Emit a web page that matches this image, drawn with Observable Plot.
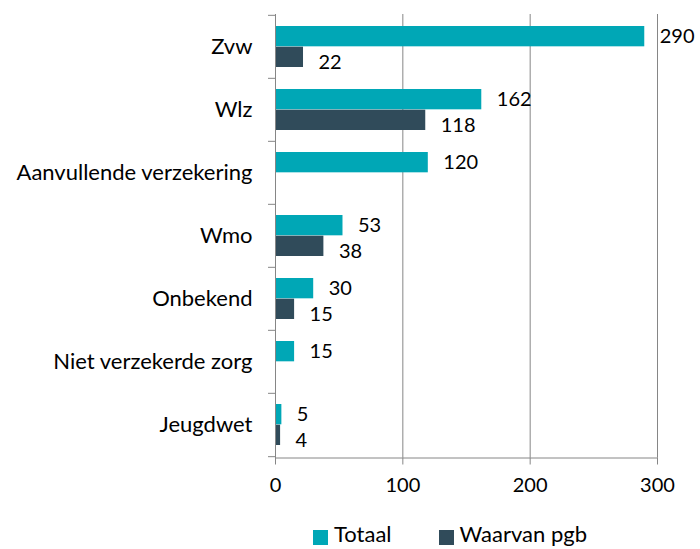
<!DOCTYPE html>
<html>
<head>
<meta charset="utf-8">
<script src="https://cdn.jsdelivr.net/npm/d3@7"></script>
<script src="https://cdn.jsdelivr.net/npm/@observablehq/plot@0.6"></script>
<style>
  body { margin: 0; background: #fff; font-family: Lato, "Open Sans", sans-serif; }
  #wrap { position: relative; width: 700px; height: 549px; }
  #legend { position: absolute; top: 521px; left: 313px; display: flex; align-items: center; font-size: 22px; line-height: 26px; color: #000; }
  .sw { width: 15px; height: 15px; display: inline-block; margin-right: 6px; position: relative; top: 3px; }
  .item { display: flex; align-items: center; }
</style>
</head>
<body>
<div id="wrap"><div id="chart"></div><div id="legend"></div></div>
<script>
const categories = ["Zvw", "Wlz", "Aanvullende verzekering", "Wmo", "Onbekend", "Niet verzekerde zorg", "Jeugdwet"];
const totaal = [290, 162, 120, 53, 30, 15, 5];
const pgb = [22, 118, null, 38, 15, null, 4];
const seriesNames = ["Totaal", "Waarvan pgb"];
const seriesColors = ["#00A7B6", "#304B5A"];
const xTicks = [0, 100, 200, 300];

const W = 700, H = 515, mt = 14, mb = 57.5, ml = 275, mr = 43;
const bw = (H - mt - mb) / categories.length;
const gap = 11;               // outer padding inside each band
const barH = (bw - 2 * gap) / 2;

const dataT = categories.map((c, i) => ({cat: c, v: totaal[i]}));
const dataP = categories.map((c, i) => ({cat: c, v: pgb[i]})).filter(d => d.v != null);
const gray = "#868686";
const numSize = 20, catSize = 22;

const chart = Plot.plot({
  width: W, height: H,
  marginTop: mt, marginBottom: mb, marginLeft: ml, marginRight: mr,
  style: {fontFamily: "Lato, 'Open Sans', sans-serif", fontSize: "20px", color: "#000", background: "#fff"},
  x: {domain: [0, 300], label: null},
  y: {domain: categories, padding: 0, label: null},
  marks: [
    Plot.gridX({ticks: xTicks.slice(1), stroke: gray, strokeOpacity: 1}),
    Plot.barX(dataT, {x: "v", y: "cat", fill: seriesColors[0], insetTop: gap, insetBottom: gap + barH}),
    Plot.barX(dataP, {x: "v", y: "cat", fill: seriesColors[1], insetTop: gap + barH, insetBottom: gap}),
    Plot.frame({anchor: "left", stroke: gray}),
    Plot.frame({anchor: "bottom", stroke: gray}),
    Plot.axisY({tickSize: 7, tickFormat: () => "", label: null, stroke: gray, strokeOpacity: 1, dy: -bw / 2}),
    Plot.axisY({ticks: categories.slice(-1), tickSize: 7, tickFormat: () => "", label: null, stroke: gray, strokeOpacity: 1, dy: bw / 2}),
    Plot.axisY({tickSize: 0, tickPadding: 23, label: null, fontSize: catSize, fill: "#000"}),
    Plot.axisX({ticks: xTicks, tickSize: 7, tickPadding: 13, label: null, stroke: gray, strokeOpacity: 1, fontSize: numSize, fill: "#000"}),
    Plot.text(dataT, {x: "v", y: "cat", text: d => String(d.v), textAnchor: "start", dx: 15, dy: -barH / 2, fontSize: numSize, fill: "#000"}),
    Plot.text(dataP, {x: "v", y: "cat", text: d => String(d.v), textAnchor: "start", dx: 15, dy: barH / 2 + 5, fontSize: numSize, fill: "#000"})
  ]
});
document.getElementById("chart").appendChild(chart);

const legend = document.getElementById("legend");
seriesNames.forEach((name, i) => {
  const item = document.createElement("div");
  item.className = "item";
  item.style.marginRight = i === 0 ? "47px" : "0";
  const sw = document.createElement("span");
  sw.className = "sw";
  sw.style.background = seriesColors[i];
  item.appendChild(sw);
  item.appendChild(document.createTextNode(name));
  legend.appendChild(item);
});
</script>
</body>
</html>
